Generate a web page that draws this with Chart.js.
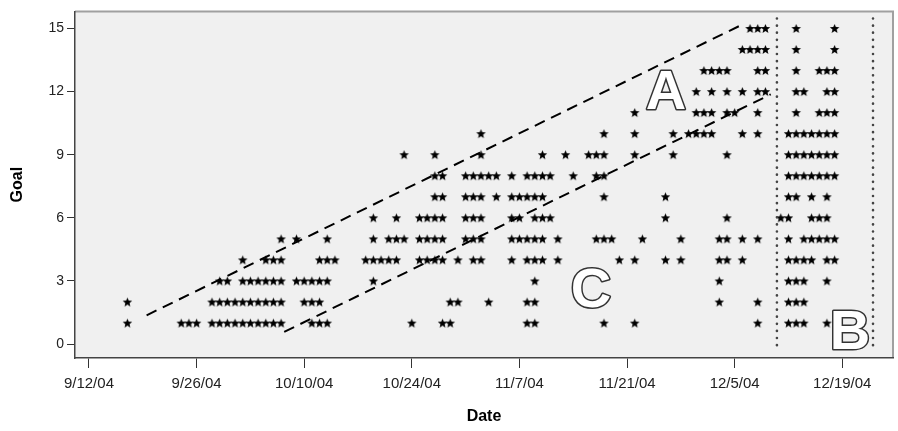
<!DOCTYPE html>
<html>
<head>
<meta charset="utf-8">
<script src="https://cdn.jsdelivr.net/npm/chart.js@4.4.0/dist/chart.umd.min.js"></script>
<style>
html, body { margin: 0; padding: 0; background: #fff; }
#wrap { width: 898px; height: 431px; }
</style>
</head>
<body>
<div id="wrap"><canvas id="goalChart" width="898" height="431"></canvas></div>
<script>
// days counted from 9/12/04, one array per goal value
var goal1 = [5, 12, 13, 14, 16, 17, 18, 19, 20, 21, 22, 23, 24, 25, 29, 30, 31, 42, 46, 47, 57, 58, 67, 71, 87, 91, 92, 93, 96];
var goal2 = [5, 16, 17, 18, 19, 20, 21, 22, 23, 24, 25, 28, 29, 30, 47, 48, 52, 57, 58, 82, 87, 91, 92, 93];
var goal3 = [17, 18, 20, 21, 22, 23, 24, 25, 27, 28, 29, 30, 31, 37, 58, 82, 91, 92, 93, 96];
var goal4 = [20, 23, 24, 25, 30, 31, 32, 36, 37, 38, 39, 40, 43, 44, 45, 46, 48, 50, 51, 55, 57, 58, 59, 61, 69, 71, 75, 77, 82, 83, 85, 91, 92, 93, 94, 96, 97];
var goal5 = [25, 27, 31, 37, 39, 40, 41, 43, 44, 45, 46, 49, 50, 51, 55, 56, 57, 58, 59, 61, 66, 67, 68, 72, 77, 82, 83, 85, 87, 91, 93, 94, 95, 96, 97];
var goal6 = [37, 40, 43, 44, 45, 46, 49, 50, 51, 55, 56, 58, 59, 60, 75, 83, 90, 91, 94, 95, 96];
var goal7 = [45, 46, 49, 50, 51, 53, 55, 56, 57, 58, 59, 67, 75, 91, 92, 94, 96];
var goal8 = [45, 46, 49, 50, 51, 52, 53, 55, 57, 58, 59, 60, 63, 66, 67, 91, 92, 93, 94, 95, 96, 97];
var goal9 = [41, 45, 51, 59, 62, 65, 66, 67, 71, 76, 83, 91, 92, 93, 94, 95, 96, 97];
var goal10 = [51, 67, 71, 76, 78, 79, 80, 81, 85, 87, 91, 92, 93, 94, 95, 96, 97];
var goal11 = [71, 79, 80, 81, 83, 84, 87, 92, 95, 96, 97];
var goal12 = [79, 81, 83, 85, 87, 88, 92, 93, 96, 97];
var goal13 = [80, 81, 82, 83, 87, 88, 92, 95, 96, 97];
var goal14 = [85, 86, 87, 88, 92, 97];
var goal15 = [86, 87, 88, 92, 97];
var goalRows = [goal1, goal2, goal3, goal4, goal5, goal6, goal7, goal8, goal9, goal10, goal11, goal12, goal13, goal14, goal15];

var dateTicks = [0, 14, 28, 42, 56, 70, 84, 98];
var goalTicks = [0, 3, 6, 9, 12, 15];

// dashed guide lines and dotted phase markers (day, goal)
var upperGuide = [{x: 7.5, y: 1.37}, {x: 85.3, y: 15.24}];
var lowerGuide = [{x: 25.4, y: 0.58}, {x: 88.7, y: 11.87}];
var phaseLine1 = [{x: 89.5, y: -0.05}, {x: 89.5, y: 15.55}];
var phaseLine2 = [{x: 102, y: -0.05}, {x: 102, y: 15.55}];
var letterLabels = ['A', 'C', 'B'];
var letterDays = [75.06, 65.3, 99.0];
var letterGoals = [11.17, 1.75, -0.24];

function dayLabel(d) {
    var dt = new Date(2004, 8, 12 + d);
    return (dt.getMonth() + 1) + '/' + dt.getDate() + '/' + String(dt.getFullYear()).slice(2);
}

var stars = [];
for (var g = 0; g < goalRows.length; g++) {
    for (var i = 0; i < goalRows[g].length; i++) {
        stars.push({x: goalRows[g][i], y: g + 1});
    }
}

// filled five point star used as marker
var starImg = document.createElement('canvas');
starImg.width = 11; starImg.height = 11;
var sc = starImg.getContext('2d');
sc.beginPath();
for (var k = 0; k < 10; k++) {
    var r = (k % 2 === 0) ? 5.0 : 2.2;
    var a = -Math.PI / 2 + k * Math.PI / 5;
    var px = 5.5 + r * Math.cos(a), py = 5.9 + r * Math.sin(a);
    if (k === 0) sc.moveTo(px, py); else sc.lineTo(px, py);
}
sc.closePath();
sc.fillStyle = '#000';
sc.fill();

var framePlugin = {
    id: 'frame',
    beforeDraw: function (chart) {
        var c = chart.ctx, a = chart.chartArea;
        c.save();
        c.fillStyle = '#fff';
        c.fillRect(0, 0, chart.width, chart.height);
        c.fillStyle = '#f0f0f0';
        c.fillRect(a.left, a.top, a.right - a.left, a.bottom - a.top);
        c.strokeStyle = '#a0a0a0';
        c.lineWidth = 2;
        c.beginPath();
        c.moveTo(a.left, a.top); c.lineTo(a.right, a.top); c.lineTo(a.right, a.bottom);
        c.stroke();
        c.restore();
    },
    afterDatasetsDraw: function (chart) {
        var c = chart.ctx, xs = chart.scales.x, ys = chart.scales.y;
        c.save();
        c.font = 'bold 56px "Liberation Sans", Arial, sans-serif';
        c.textAlign = 'center';
        c.textBaseline = 'alphabetic';
        c.lineJoin = 'round';
        for (var n = 0; n < letterLabels.length; n++) {
            var lx = xs.getPixelForValue(letterDays[n]);
            var ly = ys.getPixelForValue(letterGoals[n]);
            c.strokeStyle = '#333';
            c.lineWidth = 3;
            c.strokeText(letterLabels[n], lx, ly);
            c.fillStyle = '#fff';
            c.fillText(letterLabels[n], lx, ly);
        }
        c.restore();
    }
};

var guideStyle = {type: 'line', showLine: true, pointRadius: 0, borderColor: '#000', borderWidth: 2, borderDash: [11, 7], fill: false};
var dotStyle = {type: 'line', showLine: true, pointRadius: 0, borderColor: '#444', borderWidth: 2.6, borderDash: [0.1, 7], borderCapStyle: 'round', fill: false};

var ctx = document.getElementById('goalChart').getContext('2d');
var goalChart = new Chart(ctx, {
    type: 'scatter',
    data: {
        datasets: [
            Object.assign({data: upperGuide}, guideStyle),
            Object.assign({data: lowerGuide}, guideStyle),
            Object.assign({data: phaseLine1}, dotStyle),
            Object.assign({data: phaseLine2}, dotStyle),
            {data: stars, pointStyle: starImg, pointRadius: 4, showLine: false}
        ]
    },
    options: {
        responsive: false,
        animation: false,
        devicePixelRatio: 1,
        layout: {padding: {top: 10, right: 2, left: 0, bottom: 0}},
        plugins: {legend: {display: false}, tooltip: {enabled: false}},
        scales: {
            x: {
                type: 'linear',
                min: -1.815,
                max: 104.6,
                afterBuildTicks: function (s) { s.ticks = dateTicks.map(function (v) { return {value: v}; }); },
                afterFit: function (s) { s.height = 73; },
                ticks: {
                    callback: function (v) { return dayLabel(v); },
                    color: '#222',
                    font: {family: '"Liberation Sans", Arial, sans-serif', size: 15},
                    padding: 7,
                    maxRotation: 0,
                    autoSkip: false
                },
                grid: {drawOnChartArea: false, drawTicks: true, tickLength: 10, color: '#333'},
                border: {display: true, color: '#444', width: 1.5},
                title: {display: true, text: 'Date', color: '#000', font: {family: '"Liberation Sans", Arial, sans-serif', size: 16, weight: 'bold'}, padding: {top: 0, bottom: 5}}
            },
            y: {
                type: 'linear',
                min: -0.66,
                max: 15.81,
                afterBuildTicks: function (s) { s.ticks = goalTicks.map(function (v) { return {value: v}; }); },
                afterFit: function (s) { s.width = 75; },
                ticks: {
                    color: '#222',
                    font: {family: '"Liberation Sans", Arial, sans-serif', size: 14},
                    padding: 3
                },
                grid: {drawOnChartArea: false, drawTicks: true, tickLength: 8, color: '#333'},
                border: {display: true, color: '#444', width: 1.5},
                title: {display: true, text: 'Goal', color: '#000', font: {family: '"Liberation Sans", Arial, sans-serif', size: 16, weight: 'bold'}, padding: {top: 8, bottom: 0}}
            }
        }
    },
    plugins: [framePlugin]
});
</script>
</body>
</html>
